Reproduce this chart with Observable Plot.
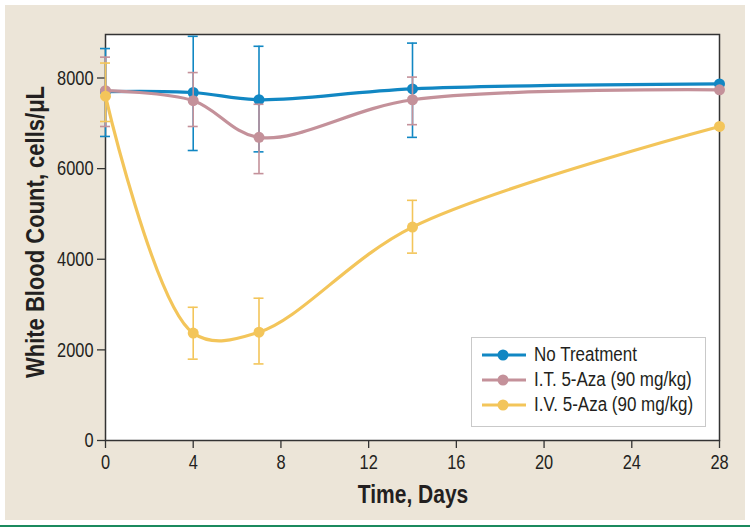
<!DOCTYPE html>
<html>
<head>
<meta charset="utf-8">
<script src="https://cdn.jsdelivr.net/npm/d3@7"></script>
<script src="https://cdn.jsdelivr.net/npm/@observablehq/plot@0.6"></script>
<style>
  body { margin: 0; background: #fff; }
  #wrap { position: relative; width: 750px; height: 532px; overflow: hidden;
          font-family: "Liberation Sans", Arial, sans-serif; color: #231f20; }
  #bg { position: absolute; left: 5px; top: 5px; width: 740px; height: 515px; background: #ece5d8; }
  #rule { position: absolute; left: 0; top: 525px; width: 750px; height: 2px; background: #1b8a5e; }
  #chart { position: absolute; left: 0; top: 0; }
  #ytitle { position: absolute; left: 35px; top: 232px; transform: translate(-50%, -50%) rotate(-90deg) scaleX(0.88);
            white-space: nowrap; font-weight: bold; font-size: 25px; line-height: 1; }
  #xtitle { position: absolute; left: 413px; top: 494px; transform: translate(-50%, -50%) scaleX(0.84);
            white-space: nowrap; font-weight: bold; font-size: 25px; line-height: 1; }
  #legend { position: absolute; left: 471px; top: 337px; width: 235px; height: 90px;
            background: #fff; border: 1.5px solid #c9c9c9; box-sizing: border-box; padding-top: 4px; }
  .row { display: flex; align-items: center; height: 25px; font-size: 20px; white-space: nowrap; }
  .row svg { margin-left: 9px; margin-right: 7px; flex: none; }
  .row span { display: inline-block; transform: scaleX(0.85); transform-origin: left center; }
  #chart svg text { font-size: 21px; fill: #231f20; }
</style>
</head>
<body>
<div id="wrap">
  <div id="bg"></div>
  <div id="rule"></div>
  <div id="chart"></div>
  <div id="ytitle">White Blood Count, cells/μL</div>
  <div id="xtitle">Time, Days</div>
  <div id="legend"></div>
</div>
<script>
const days = [0, 4, 7, 14, 28];
const seriesNames = ["No Treatment", "I.T. 5-Aza (90 mg/kg)", "I.V. 5-Aza (90 mg/kg)"];
const seriesColors = ["#1187c3", "#c4919a", "#f3c55a"];

const noTreatment   = [7700, 7680, 7520, 7760, 7870];
const noTreatmentHi = [8650, 8920, 8700, 8770, null];
const noTreatmentLo = [6710, 6400, 6370, 6690, null];

const itAza   = [7720, 7500, 6690, 7520, 7740];
const itAzaHi = [8460, 8120, 7420, 8020, null];
const itAzaLo = [6930, 6930, 5890, 6970, null];

const ivAza   = [7600, 2370, 2390, 4710, 6930];
const ivAzaHi = [8330, 2940, 3140, 5300, null];
const ivAzaLo = [7040, 1795, 1690, 4135, null];

const xTicks = [0, 4, 8, 12, 16, 20, 24, 28];
const yTicks = [0, 2000, 4000, 6000, 8000];

const seriesValues = [[noTreatment, noTreatmentHi, noTreatmentLo], [itAza, itAzaHi, itAzaLo], [ivAza, ivAzaHi, ivAzaLo]];
const series = seriesNames.map((name, i) => ({
  name, color: seriesColors[i],
  data: days.map((d, j) => ({day: d, value: seriesValues[i][0][j], hi: seriesValues[i][1][j], lo: seriesValues[i][2][j]}))
}));

const marks = [
  Plot.frame({fill: "white", stroke: "#333", strokeWidth: 1.5}),
  Plot.axisX({ticks: xTicks, tickSize: 8, tickPadding: 6, tickFormat: d => String(d), label: null, fontSize: 21, stroke: "#333", strokeWidth: 1.3}),
  Plot.axisY({ticks: yTicks, tickSize: 8, tickPadding: 4, tickFormat: d => String(d), label: null, fontSize: 21, stroke: "#333", strokeWidth: 1.3})
];
for (const s of series) {
  const err = s.data.filter(d => d.hi != null);
  marks.push(
    Plot.ruleX(err, {x: "day", y1: "lo", y2: "hi", stroke: s.color, strokeWidth: 1.6}),
    Plot.ruleY(err, {y: "hi", x1: "day", x2: "day", insetLeft: -5, insetRight: -5, stroke: s.color, strokeWidth: 1.6}),
    Plot.ruleY(err, {y: "lo", x1: "day", x2: "day", insetLeft: -5, insetRight: -5, stroke: s.color, strokeWidth: 1.6}),
    Plot.line(s.data, {x: "day", y: "value", stroke: s.color, strokeWidth: 3.2, curve: "catmull-rom"}),
    Plot.dot(s.data, {x: "day", y: "value", fill: s.color, r: 5.5})
  );
}

const chart = Plot.plot({
  width: 750, height: 532,
  marginLeft: 105, marginRight: 31, marginTop: 34, marginBottom: 92,
  style: {background: "transparent", fontFamily: '"Liberation Sans", Arial, sans-serif', fontSize: "21px", color: "#231f20", overflow: "visible"},
  x: {domain: [0, 28]},
  y: {domain: [0, 8960]},
  marks
});

// Condense tick labels horizontally (mimic a condensed face)
chart.querySelectorAll("text").forEach(t => {
  t.setAttribute("font-size", "21");
  const tr = t.getAttribute("transform");
  if (tr) {
    t.setAttribute("transform", tr + " scale(0.78,1)");
  } else {
    const x = parseFloat(t.getAttribute("x") || 0);
    t.removeAttribute("x");
    t.setAttribute("transform", `translate(${x},0) scale(0.78,1)`);
  }
});
document.getElementById("chart").appendChild(chart);

const legend = document.getElementById("legend");
for (const s of series) {
  const row = document.createElement("div");
  row.className = "row";
  row.innerHTML = `<svg width="46" height="14"><line x1="1" x2="45" y1="7" y2="7" stroke="${s.color}" stroke-width="3"/><circle cx="22" cy="7" r="5.5" fill="${s.color}"/></svg><span>${s.name}</span>`;
  legend.appendChild(row);
}
</script>
</body>
</html>
